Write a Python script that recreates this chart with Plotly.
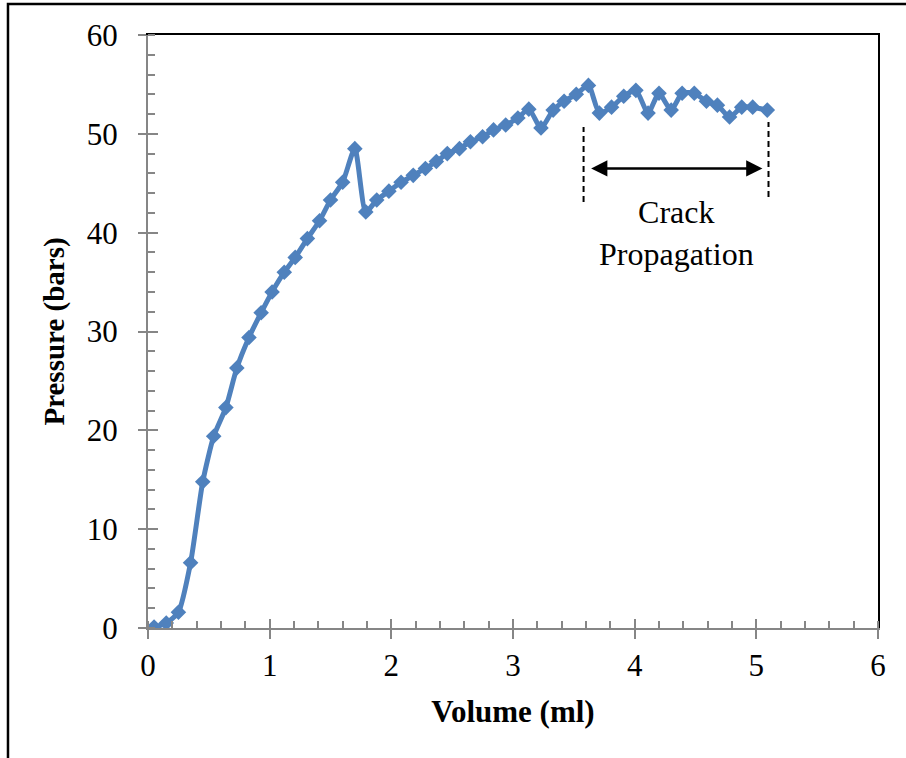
import plotly.graph_objects as go

# ---- data ----
volume = [0.05, 0.15, 0.25, 0.35, 0.45, 0.54, 0.64, 0.73, 0.83, 0.93, 1.02, 1.12,
          1.21, 1.31, 1.41, 1.50, 1.60, 1.70, 1.79, 1.88, 1.98, 2.08, 2.18, 2.28,
          2.37, 2.46, 2.56, 2.65, 2.75, 2.84, 2.94, 3.04, 3.13, 3.23, 3.33, 3.42,
          3.52, 3.62, 3.71, 3.81, 3.91, 4.01, 4.11, 4.20, 4.30, 4.39, 4.49, 4.59,
          4.68, 4.78, 4.88, 4.97, 5.09]
pressure = [0.1, 0.5, 1.6, 6.6, 14.8, 19.4, 22.3, 26.3, 29.4, 31.9, 34.0, 36.0,
            37.5, 39.4, 41.2, 43.3, 45.1, 48.5, 42.1, 43.3, 44.2, 45.1, 45.8, 46.5,
            47.2, 48.0, 48.5, 49.2, 49.7, 50.4, 50.9, 51.6, 52.5, 50.6, 52.4, 53.3,
            54.0, 54.9, 52.1, 52.7, 53.8, 54.4, 52.1, 54.1, 52.4, 54.1, 54.1, 53.3,
            52.9, 51.7, 52.7, 52.7, 52.4]

x_ticks = [0, 1, 2, 3, 4, 5, 6]
y_ticks = [0, 10, 20, 30, 40, 50, 60]

crack_start = 3.58
crack_end = 5.10
arrow_left = 3.63
arrow_right = 5.05
arrow_level = 46.5
crack_label = "Crack<br>Propagation"

FONT = "Liberation Serif, Times New Roman, serif"
GREY = "#868686"
BLUE = "#4F81BD"

fig = go.Figure()
fig.add_trace(go.Scatter(
    x=volume, y=pressure, mode="lines+markers",
    line=dict(color=BLUE, width=5, shape="spline", smoothing=0.6),
    marker=dict(symbol="diamond", size=12, color=BLUE),
    showlegend=False, hoverinfo="skip"))
# dummy traces to create overlay axes (box border / crossing ticks)
fig.add_trace(go.Scatter(x=[], y=[], xaxis="x2", yaxis="y2", showlegend=False))
fig.add_trace(go.Scatter(x=[], y=[], xaxis="x3", yaxis="y3", showlegend=False))

common = dict(showgrid=False, zeroline=False)
fig.update_layout(
    width=906, height=758,
    margin=dict(l=148, r=28, t=35, b=130),
    paper_bgcolor="white", plot_bgcolor="white",
    font=dict(family=FONT, color="black"),
    xaxis=dict(range=[0, 6], tickvals=x_ticks, ticktext=[str(v) for v in x_ticks],
               ticks="outside", ticklen=9, tickwidth=2, tickcolor=GREY,
               showline=True, linecolor=GREY, linewidth=2,
               minor=dict(dtick=0.2, tick0=0, ticks="inside", ticklen=7,
                          tickwidth=2, tickcolor=GREY, showgrid=False),
               tickfont=dict(size=31, family=FONT), ticklabelstandoff=0,
               title=dict(text="<b>Volume (ml)</b>", font=dict(size=31, family=FONT),
                          standoff=18),
               **common),
    yaxis=dict(range=[0, 60], tickvals=y_ticks, ticktext=[str(v) for v in y_ticks],
               ticks="outside", ticklen=8, tickwidth=2, tickcolor=GREY,
               showline=True, linecolor=GREY, linewidth=2,
               minor=dict(dtick=2, tick0=0, ticks="inside", ticklen=7,
                          tickwidth=2, tickcolor=GREY, showgrid=False),
               tickfont=dict(size=31, family=FONT), ticklabelstandoff=14,
               title=dict(text="<b>Pressure (bars)</b>", font=dict(size=29, family=FONT),
                          standoff=14),
               **common),
    xaxis2=dict(overlaying="x", side="top", range=[0, 6], showline=True,
                linecolor="black", linewidth=2, ticks="", showticklabels=False, **common),
    yaxis2=dict(overlaying="y", side="right", range=[0, 60], showline=True,
                linecolor="black", linewidth=2, ticks="", showticklabels=False, **common),
    xaxis3=dict(overlaying="x", side="bottom", range=[0, 6], tickvals=x_ticks,
                ticks="inside", ticklen=9, tickwidth=2, tickcolor=GREY,
                showline=False, showticklabels=False, **common),
    yaxis3=dict(overlaying="y", side="left", range=[0, 60], tickvals=y_ticks,
                ticks="inside", ticklen=10, tickwidth=2, tickcolor=GREY,
                showline=False, showticklabels=False, **common),
)

# outer frame
fig.add_shape(type="rect", xref="paper", yref="paper",
              x0=-0.1918, x1=1.05, y0=-0.23, y1=1.0523,
              line=dict(color="black", width=2.5), fillcolor="rgba(0,0,0,0)", layer="below")

# dashed markers of crack propagation range
for xv, y0, y1 in [(crack_start, 43.1, 50.7), (crack_end, 43.6, 51.2)]:
    fig.add_shape(type="line", xref="x", yref="y", x0=xv, x1=xv, y0=y0, y1=y1,
                  line=dict(color="black", width=2, dash="6px,4px"))

# double arrow
fig.add_annotation(x=arrow_right, y=arrow_level, ax=arrow_left, ay=arrow_level,
                   xref="x", yref="y", axref="x", ayref="y", text="",
                   showarrow=True, arrowhead=2, startarrowhead=2, arrowside="end+start",
                   arrowwidth=2.5, arrowsize=1.3, startarrowsize=1.3, arrowcolor="black",
                   standoff=0, startstandoff=0)
fig.add_annotation(x=(arrow_left + arrow_right) / 2, y=40.0, xref="x", yref="y",
                   text=crack_label, showarrow=False,
                   font=dict(size=32, family=FONT, color="black"), align="center")

fig.write_html("out.html", config={"displayModeBar": False},
               post_script="document.body.style.margin='0';")
